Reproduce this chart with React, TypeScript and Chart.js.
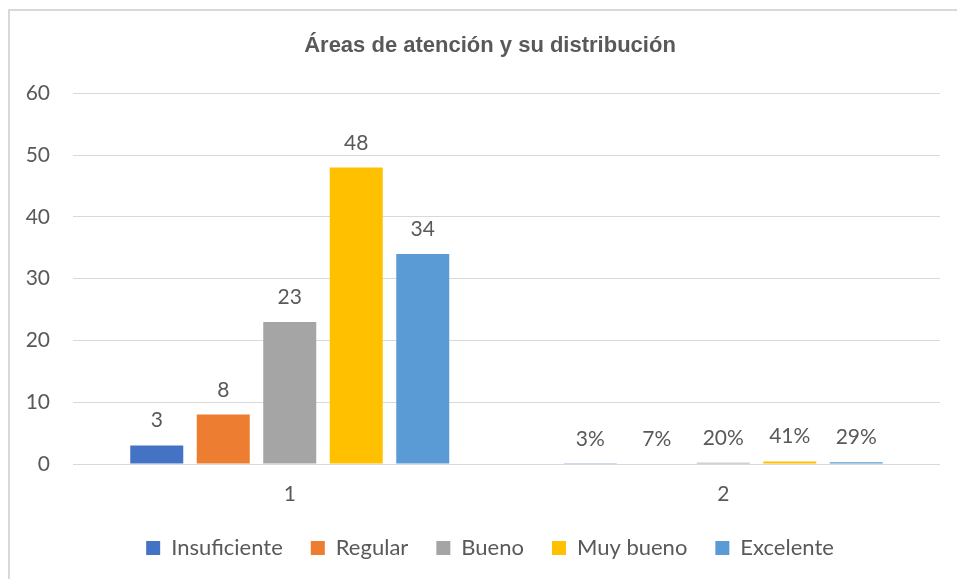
import React, { useEffect, useRef } from "react";
import { Chart, registerables } from "chart.js";

Chart.register(...registerables);

const categories = ["1", "2"];
const seriesNames = ["Insuficiente", "Regular", "Bueno", "Muy bueno", "Excelente"];
const insuficiente = [3, 0.03];
const regular = [8, 0.07];
const bueno = [23, 0.2];
const muyBueno = [48, 0.41];
const excelente = [34, 0.29];
const seriesColors = ["#4472C4", "#ED7D31", "#A5A5A5", "#FFC000", "#5B9BD5"];
const titleText = "Áreas de atención y su distribución";

const FONT = "Lato, 'Noto Sans', sans-serif";
const TEXT = "#595959";

const labelPlugin = {
  id: "barLabels",
  afterDatasetsDraw(chart: any) {
    const ctx = chart.ctx;
    ctx.save();
    ctx.font = `21px ${FONT}`;
    ctx.fillStyle = TEXT;
    ctx.textAlign = "center";
    ctx.textBaseline = "alphabetic";
    chart.data.datasets.forEach((ds: any, di: number) => {
      const meta = chart.getDatasetMeta(di);
      meta.data.forEach((el: any, i: number) => {
        const v = ds.data[i];
        const txt = i === 0 ? String(v) : `${Math.round(v * 100)}%`;
        ctx.fillText(txt, el.x, el.y - 18);
      });
    });
    ctx.restore();
  },
};

export default function App() {
  const ref = useRef<HTMLCanvasElement>(null);
  useEffect(() => {
    if (!ref.current) return;
    const allData = [insuficiente, regular, bueno, muyBueno, excelente];
    const chart = new Chart(ref.current, {
      type: "bar",
      data: {
        labels: categories,
        datasets: seriesNames.map((name, i) => ({
          label: name,
          data: allData[i],
          backgroundColor: seriesColors[i],
          borderWidth: 0,
          categoryPercentage: 0.767,
          barPercentage: 0.797,
          yAxisID: "y",
        })),
      },
      options: {
        animation: false,
        responsive: false,
        maintainAspectRatio: false,
        layout: { padding: { left: 0, right: 2, top: 0, bottom: 10 } },
        plugins: {
          title: {
            display: true,
            text: titleText,
            color: TEXT,
            font: { family: "'Liberation Sans', Arial, sans-serif", size: 22, weight: "bold" },
            padding: { top: 22, bottom: 34 },
          },
          legend: {
            display: true,
            position: "bottom",
            labels: {
              boxWidth: 14,
              boxHeight: 14,
              padding: 28,
              color: TEXT,
              font: { family: FONT, size: 22 },
            },
          },
          tooltip: { enabled: false },
        },
        scales: {
          x: {
            grid: { display: false },
            border: { display: false },
            ticks: { color: TEXT, font: { family: FONT, size: 21 }, padding: 10 },
            afterFit: (scale: any) => {
              scale.height = 45;
            },
          },
          y: {
            min: 0,
            max: 60,
            ticks: { stepSize: 10, color: TEXT, font: { family: FONT, size: 21 }, padding: 23 },
            grid: { color: "#D9D9D9", lineWidth: 1, drawTicks: false },
            border: { display: false },
            afterFit: (scale: any) => {
              scale.width = 63;
            },
          },
          yRight: {
            type: "linear",
            position: "right",
            min: 0,
            max: 60,
            display: true,
            ticks: { display: false },
            grid: { display: false, drawTicks: false },
            border: { display: false },
            afterFit: (scale: any) => {
              scale.width = 30;
            },
          },
        },
      },
      plugins: [labelPlugin],
    });
    return () => chart.destroy();
  }, []);

  return (
    <div style={{ position: "fixed", left: 0, top: 0, width: 957, height: 579, overflow: "hidden", background: "#fff" }}>
      <div
        style={{
          position: "absolute",
          left: 8,
          top: 9,
          width: 962,
          height: 600,
          border: "2px solid #D9D9D9",
          background: "#fff",
        }}
      >
        <canvas ref={ref} width={962} height={568} style={{ display: "block", width: 962, height: 568 }} />
      </div>
    </div>
  );
}
